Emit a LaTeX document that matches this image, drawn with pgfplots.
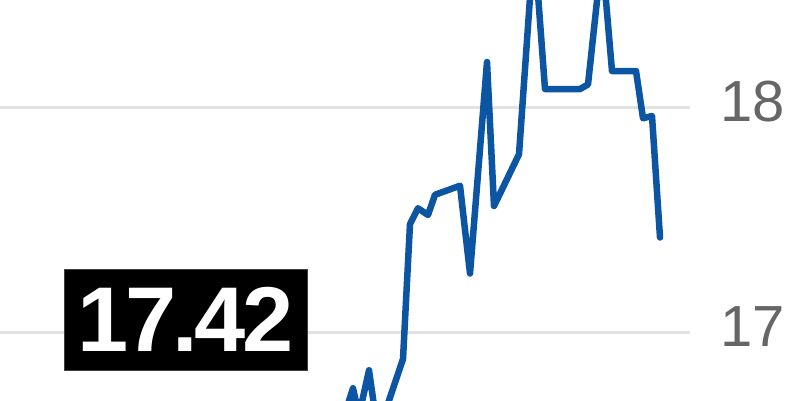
\documentclass[border=0pt]{standalone}
\usepackage{pgfplots}
\pgfplotsset{compat=1.18}
\usepackage{fontspec}
\setmainfont{Liberation Sans}
\definecolor{lineblue}{HTML}{0B55A3}
\definecolor{gridgray}{HTML}{E2E2E2}
\definecolor{labelgray}{HTML}{666666}

% price series, x = horizontal position, y = price
\pgfplotstableread{
x   y
335 16.50
353 16.75
359 16.63
369 16.83
376 16.61
384 16.63
403 16.88
410 17.48
418 17.55
428 17.52
435 17.61
460 17.65
470 17.26
487 18.20
494 17.56
519 17.79
534 18.74
545 18.08
580 18.08
588 18.10
602 18.68
612 18.16
636 18.16
643 17.95
652 17.96
660 17.42
}\prices

\begin{document}
\begin{tikzpicture}
\path[use as bounding box] (0,0) rectangle (800pt,400pt);
\begin{axis}[
    at={(0,0)}, anchor=south west,
    scale only axis,
    width=690pt, height=400pt,
    xmin=0, xmax=690,
    ymin=16.6978, ymax=18.4756,
    axis line style={draw=none},
    xtick=\empty,
    ytick={17,18},
    major tick length=0pt,
    ymajorgrids,
    major grid style={gridgray, line width=3pt},
    yticklabel pos=right,
    /pgf/number format/assume math mode=true,
    yticklabel style={anchor=base east, inner sep=0pt, xshift=95pt, yshift=-14pt,
        font=\fontsize{58}{58}\selectfont, text=labelgray},
]
\addplot[lineblue, line width=6.5pt, line join=round, line cap=round] table[x=x, y=y] {\prices};
\end{axis}
\node[fill=black, draw=black!75, line width=0.6pt, minimum width=243pt, minimum height=101pt,
    inner sep=0pt, text=white, font=\fontsize{92}{92}\selectfont\bfseries\addfontfeature{LetterSpace=-4}]
    at (185.5pt, 80.5pt) {17.42};
\end{tikzpicture}
\end{document}
